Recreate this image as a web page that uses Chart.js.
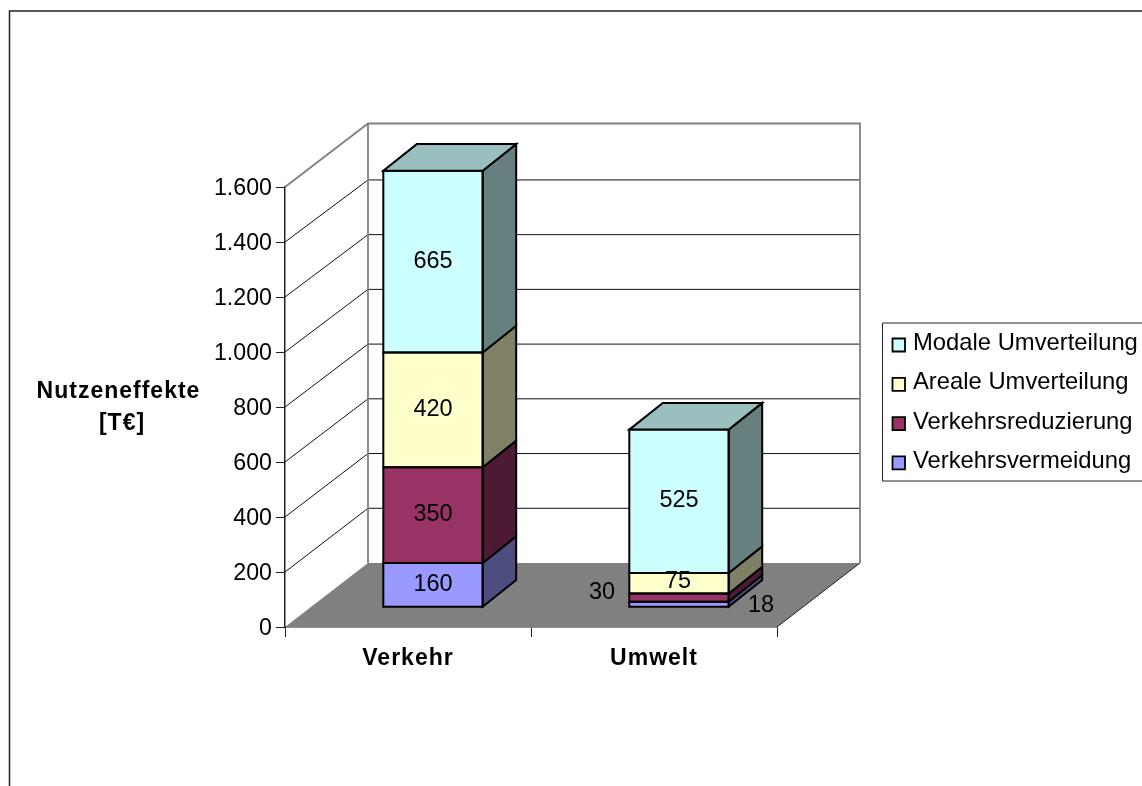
<!DOCTYPE html>
<html lang="de">
<head>
<meta charset="utf-8">
<title>Nutzeneffekte</title>
<script src="https://cdn.jsdelivr.net/npm/chart.js@4"></script>
<style>
  html, body { margin: 0; padding: 0; background: #fff; overflow: hidden; }
  canvas { display: block; }
</style>
</head>
<body>
<canvas id="chart" width="1142" height="786"></canvas>
<script>
const categories = ["Verkehr", "Umwelt"];
const seriesNames = ["Verkehrsvermeidung", "Verkehrsreduzierung", "Areale Umverteilung", "Modale Umverteilung"];
const vermeidung = [160, 18];
const reduzierung = [350, 30];
const areal = [420, 75];
const modal = [665, 525];
const yTicks = [0, 200, 400, 600, 800, 1000, 1200, 1400, 1600];
const axisTitle = ["Nutzeneffekte", "[T€]"];

const colors = ["#9999FF", "#993366", "#FFFFCC", "#CCFFFF"];
const FONT = '"Liberation Sans", Arial, sans-serif';

// room depth and the shift of the bars into the room
const roomDx = 83, roomDy = 63.5, floorDy = 64;
const barShiftX = 25, barShiftY = -20.3;
const barDx = 33.5, barDy = 26.7;

// labels of thin segments sit beside the bar: [dataset, category, dx, dy]
const labelOffsets = [[0, 1, 82, 2], [1, 1, -77, -4.5], [2, 1, -1, -1]];

function shade(hex, f) {
  const n = parseInt(hex.slice(1), 16);
  const c = [n >> 16, (n >> 8) & 255, n & 255].map((v) => Math.round(v * f));
  return `rgb(${c[0]},${c[1]},${c[2]})`;
}

function poly(ctx, pts, fill, stroke, lw) {
  ctx.beginPath();
  pts.forEach((p, i) => (i ? ctx.lineTo(p[0], p[1]) : ctx.moveTo(p[0], p[1])));
  ctx.closePath();
  if (fill) { ctx.fillStyle = fill; ctx.fill(); }
  if (stroke) { ctx.strokeStyle = stroke; ctx.lineWidth = lw; ctx.lineJoin = "miter"; ctx.stroke(); }
}

function line(ctx, pts, color, lw) {
  ctx.beginPath();
  pts.forEach((p, i) => (i ? ctx.lineTo(p[0], p[1]) : ctx.moveTo(p[0], p[1])));
  ctx.strokeStyle = color;
  ctx.lineWidth = lw;
  ctx.stroke();
}

// back wall, side wall, floor and grid of the 3D room
const roomPlugin = {
  id: "room",
  beforeDatasetsDraw(chart) {
    const { ctx, chartArea: a, scales } = chart;
    const y = scales.y;
    const floorY = a.bottom - floorDy;
    ctx.save();
    poly(ctx, [[a.left, a.bottom], [a.right, a.bottom], [a.right + roomDx, floorY], [a.left + roomDx, floorY]], "#808080");
    line(ctx, [[a.right, a.bottom], [a.right + roomDx, floorY]], "#222", 1);
    yTicks.slice(1, -1).forEach((t) => {
      const py = y.getPixelForValue(t);
      const back = floorY - (a.bottom - py) * 0.995;
      line(ctx, [[a.left, py], [a.left + roomDx, back], [a.right + roomDx, back]], "#111", 1);
    });
    const topY = y.getPixelForValue(yTicks[yTicks.length - 1]);
    line(ctx, [[a.left, topY], [a.left + roomDx, topY - roomDy], [a.right + roomDx, topY - roomDy], [a.right + roomDx, floorY]], "#808080", 1.8);
    line(ctx, [[a.left + roomDx, topY - roomDy], [a.left + roomDx, floorY]], "#808080", 1.8);
    ctx.restore();
    // bars are drawn by the library, moved onto the floor
    ctx.save();
    ctx.translate(barShiftX, barShiftY);
  },
  afterDatasetsDraw(chart) {
    const { ctx } = chart;
    chart.data.datasets.forEach((ds, i) => {
      chart.getDatasetMeta(i).data.forEach((bar) => {
        const l = bar.x - bar.width / 2, r = bar.x + bar.width / 2;
        const top = bar.y, base = bar.base;
        poly(ctx, [[r, top], [r + barDx, top - barDy], [r + barDx, base - barDy], [r, base]], shade(ds.backgroundColor, 0.5), "#000", 2);
        poly(ctx, [[l, base], [r, base], [r, top], [l, top]], null, "#000", 2);
        if (i === chart.data.datasets.length - 1) {
          poly(ctx, [[l, top], [l + barDx, top - barDy], [r + barDx, top - barDy], [r, top]], shade(ds.backgroundColor, 0.75), "#000", 2);
        }
      });
    });
    ctx.restore();

    // value labels
    ctx.save();
    ctx.font = `23.5px ${FONT}`;
    ctx.fillStyle = "#000";
    ctx.textAlign = "center";
    ctx.textBaseline = "middle";
    chart.data.datasets.forEach((ds, i) => {
      chart.getDatasetMeta(i).data.forEach((bar, j) => {
        const off = labelOffsets.find((o) => o[0] === i && o[1] === j);
        const lx = bar.x + barShiftX + (off ? off[2] : 0);
        const ly = (bar.y + bar.base) / 2 + barShiftY - 0.5 + (off ? off[3] : 0);
        ctx.fillText(ds.data[j], lx, ly);
      });
    });
    ctx.restore();
  },
  afterDraw(chart) {
    const { ctx, scales } = chart;
    ctx.save();
    // chart frame, open to the right and bottom
    line(ctx, [[9.5, chart.height], [9.5, 11], [chart.width, 11]], "#222", 1.5);

    // axis title and category names, bold and slightly spaced
    ctx.font = `bold 23px ${FONT}`;
    ctx.letterSpacing = "1px";
    ctx.fillStyle = "#000";
    ctx.textAlign = "center";
    ctx.textBaseline = "alphabetic";
    ctx.fillText(axisTitle[0], 118.5, 398);
    ctx.fillText(axisTitle[1], 122, 430);
    categories.forEach((c, j) => ctx.fillText(c, scales.x.getPixelForValue(j), 665));
    ctx.letterSpacing = "0px";

    // legend box, newest series on top
    ctx.fillStyle = "#fff";
    ctx.fillRect(882.5, 323, chart.width, 158);
    line(ctx, [[chart.width, 323], [882.5, 323], [882.5, 481], [chart.width, 481]], "#222", 1);
    ctx.font = `23.8px ${FONT}`;
    ctx.textAlign = "left";
    ctx.textBaseline = "middle";
    const order = chart.data.datasets.slice().reverse();
    order.forEach((ds, i) => {
      const ry = 338.5 + i * 39.3;
      poly(ctx, [[892.5, ry], [905, ry], [905, ry + 13], [892.5, ry + 13]], ds.backgroundColor, "#000", 1.8);
      ctx.fillStyle = "#000";
      ctx.fillText(ds.label, 913, ry + 5);
    });
    ctx.restore();
  },
};

const datasetValues = [vermeidung, reduzierung, areal, modal];

new Chart(document.getElementById("chart"), {
  type: "bar",
  data: {
    labels: categories,
    datasets: seriesNames.map((name, i) => ({
      label: name,
      data: datasetValues[i],
      backgroundColor: colors[i],
      borderWidth: 0,
      clip: false,
      yAxisID: "depth",
      barPercentage: 0.404,
      categoryPercentage: 1,
    })),
  },
  options: {
    responsive: false,
    animation: false,
    layout: { padding: { top: 187, left: 0, right: 365, bottom: 0 } },
    plugins: { legend: { display: false }, tooltip: { enabled: false } },
    scales: {
      x: {
        stacked: true,
        grid: { drawOnChartArea: false, color: "#222", tickLength: 10, offset: true },
        border: { color: "#222", width: 1.5 },
        ticks: { display: false },
        afterFit(scale) { scale.height = 786 - 627; },
      },
      y: {
        min: 0,
        max: 1600,
        grid: { drawOnChartArea: false, color: "#222", tickLength: 9 },
        border: { color: "#222", width: 1.5 },
        afterBuildTicks(scale) { scale.ticks = yTicks.map((v) => ({ value: v })); },
        ticks: {
          color: "#000",
          font: { family: FONT, size: 23.2 },
          padding: 4,
          labelOffset: 1.5,
          callback: (v) => v.toLocaleString("de-DE"),
        },
        afterFit(scale) { scale.width = 285; },
      },
      // the bars stand further back, so one unit is a little shorter there
      depth: { display: false, stacked: true, min: 0, max: 1610 },
    },
  },
  plugins: [roomPlugin],
});
</script>
</body>
</html>
